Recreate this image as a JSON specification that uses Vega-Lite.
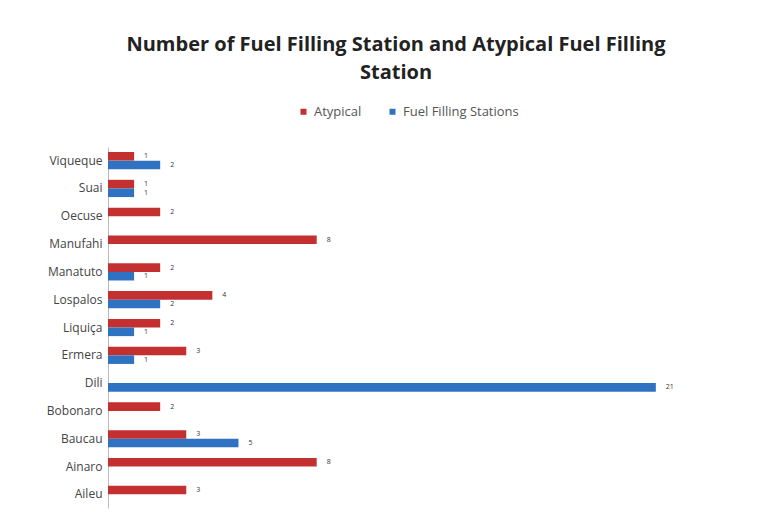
{
  "$schema": "https://vega.github.io/schema/vega-lite/v6.json",
  "width": 600,
  "height": 361,
  "autosize": {"type": "none"},
  "padding": {"left": 108, "top": 147, "right": 60, "bottom": 17},
  "background": "white",
  "title": {
    "text": ["Number of Fuel Filling Station and Atypical Fuel Filling", "Station"],
    "font": "Open Sans",
    "fontSize": 20,
    "fontWeight": "bold",
    "color": "#222222",
    "anchor": "middle",
    "lineHeight": 28,
    "offset": 22,
    "dx": -12
  },
  "data": {
    "values": [
      {"region": "Viqueque", "series": "Atypical", "value": 1},
      {"region": "Viqueque", "series": "Fuel Filling Stations", "value": 2},
      {"region": "Suai", "series": "Atypical", "value": 1},
      {"region": "Suai", "series": "Fuel Filling Stations", "value": 1},
      {"region": "Oecuse", "series": "Atypical", "value": 2},
      {"region": "Manufahi", "series": "Atypical", "value": 8},
      {"region": "Manatuto", "series": "Atypical", "value": 2},
      {"region": "Manatuto", "series": "Fuel Filling Stations", "value": 1},
      {"region": "Lospalos", "series": "Atypical", "value": 4},
      {"region": "Lospalos", "series": "Fuel Filling Stations", "value": 2},
      {"region": "Liquiça", "series": "Atypical", "value": 2},
      {"region": "Liquiça", "series": "Fuel Filling Stations", "value": 1},
      {"region": "Ermera", "series": "Atypical", "value": 3},
      {"region": "Ermera", "series": "Fuel Filling Stations", "value": 1},
      {"region": "Dili", "series": "Fuel Filling Stations", "value": 21},
      {"region": "Bobonaro", "series": "Atypical", "value": 2},
      {"region": "Baucau", "series": "Atypical", "value": 3},
      {"region": "Baucau", "series": "Fuel Filling Stations", "value": 5},
      {"region": "Ainaro", "series": "Atypical", "value": 8},
      {"region": "Aileu", "series": "Atypical", "value": 3}
    ]
  },
  "encoding": {
    "y": {
      "field": "region",
      "type": "nominal",
      "sort": ["Viqueque", "Suai", "Oecuse", "Manufahi", "Manatuto", "Lospalos", "Liquiça", "Ermera", "Dili", "Bobonaro", "Baucau", "Ainaro", "Aileu"],
      "scale": {"paddingInner": 0.38, "paddingOuter": 0.18},
      "axis": {
        "title": null,
        "labelFont": "Open Sans",
        "labelFontSize": 12,
        "labelColor": "#444444",
        "labelPadding": 6,
        "domainColor": "#bbbbbb",
        "ticks": false
      }
    },
    "yOffset": {
      "field": "series",
      "type": "nominal",
      "scale": {"domain": ["Atypical", "Fuel Filling Stations"]}
    },
    "x": {
      "field": "value",
      "type": "quantitative",
      "scale": {"domain": [0, 23], "nice": false},
      "axis": null
    }
  },
  "layer": [
    {
      "mark": {"type": "bar", "stroke": null},
      "encoding": {
        "color": {
          "field": "series",
          "type": "nominal",
          "scale": {"domain": ["Atypical", "Fuel Filling Stations"], "range": ["#c42f30", "#2f72c2"]},
          "legend": {
            "title": null,
            "orient": "top",
            "direction": "horizontal",
            "offset": 28,
            "symbolType": "square",
            "symbolSize": 36,
            "labelFont": "Open Sans",
            "labelFontSize": 13,
            "labelColor": "#555555",
            "columnPadding": 24
          }
        }
      }
    },
    {
      "mark": {"type": "text", "align": "left", "dx": 10, "fontSize": 7, "font": "Open Sans", "color": "#333333"},
      "encoding": {"text": {"field": "value", "type": "quantitative"}}
    }
  ],
  "config": {
    "view": {"stroke": null},
    "legend": {"layout": {"top": {"anchor": "middle"}}}
  }
}
